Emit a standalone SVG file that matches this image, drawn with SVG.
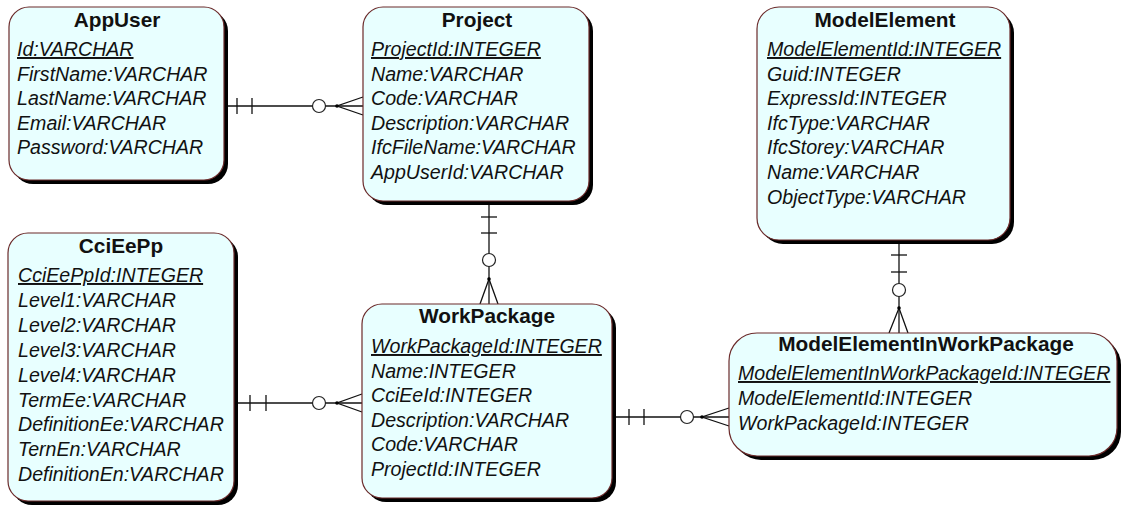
<svg xmlns="http://www.w3.org/2000/svg" width="1123" height="506" viewBox="0 0 1123 506">
  <style>
    .shadow { fill: #000; }
    .box { fill: #e8ffff; stroke: #6b2a2a; stroke-width: 1.2; }
    .title { font-family: "Liberation Sans", Arial, sans-serif; font-weight: bold; font-size: 20.8px; fill: #111; text-anchor: middle; }
    .attr { font-family: "Liberation Sans", Arial, sans-serif; font-style: italic; font-size: 19.6px; fill: #111; }
    .key { text-decoration: underline; }
    .rel line, .rel polyline { stroke: #111; stroke-width: 1.3; fill: none; }
    .rel circle.opt { fill: #fff; stroke: #222; stroke-width: 1.2; }
    .rel circle.dot { fill: #000; }
  </style>

  <rect width="1123" height="506" fill="#fff"/>

  <!-- relationships: one (||) to zero-or-many (o<) -->
  <g id="connectors" class="rel">
    <!-- AppUser -> Project -->
    <g id="rel-appuser-project">
      <line x1="228" y1="106" x2="363" y2="106"/>
      <line x1="237" y1="98" x2="237" y2="114"/>
      <line x1="252" y1="98" x2="252" y2="114"/>
      <circle class="opt" cx="319" cy="106" r="6.5"/>
      <polyline points="363,97 337,106 363,115"/>
      <circle class="dot" cx="337" cy="106" r="1.8"/>
    </g>
    <!-- Project -> WorkPackage -->
    <g id="rel-project-workpackage">
      <line x1="489" y1="205" x2="489" y2="304"/>
      <line x1="481" y1="217" x2="497" y2="217"/>
      <line x1="481" y1="233" x2="497" y2="233"/>
      <circle class="opt" cx="489" cy="260" r="6.5"/>
      <polyline points="480,304 489,279 498,304"/>
      <circle class="dot" cx="489" cy="279" r="1.8"/>
    </g>
    <!-- CciEePp -> WorkPackage -->
    <g id="rel-cci-workpackage">
      <line x1="238" y1="403" x2="362" y2="403"/>
      <line x1="250" y1="395" x2="250" y2="411"/>
      <line x1="266" y1="395" x2="266" y2="411"/>
      <circle class="opt" cx="319" cy="403" r="6.5"/>
      <polyline points="362,394 337,403 362,412"/>
      <circle class="dot" cx="337" cy="403" r="1.8"/>
    </g>
    <!-- WorkPackage -> ModelElementInWorkPackage -->
    <g id="rel-workpackage-meiwp">
      <line x1="616" y1="417" x2="729" y2="417"/>
      <line x1="629" y1="409" x2="629" y2="425"/>
      <line x1="644" y1="409" x2="644" y2="425"/>
      <circle class="opt" cx="687" cy="417" r="6.5"/>
      <polyline points="729,408 702,417 729,426"/>
      <circle class="dot" cx="702" cy="417" r="1.8"/>
    </g>
    <!-- ModelElement -> ModelElementInWorkPackage -->
    <g id="rel-modelelement-meiwp">
      <line x1="899" y1="244" x2="899" y2="333"/>
      <line x1="891" y1="255" x2="907" y2="255"/>
      <line x1="891" y1="272" x2="907" y2="272"/>
      <circle class="opt" cx="899" cy="290" r="6.5"/>
      <polyline points="889,333 899,308 908,333"/>
      <circle class="dot" cx="899" cy="308" r="1.8"/>
    </g>
  </g>

  <!-- entities -->
  <g id="AppUser">
    <rect class="shadow" x="13" y="11" width="215" height="173" rx="20"/>
    <rect class="box" x="9" y="7" width="215" height="173" rx="20"/>
    <text class="title" x="117" y="27">AppUser</text>
    <text class="attr key" x="17" y="56">Id:VARCHAR</text>
    <text class="attr" x="17" y="80.6">FirstName:VARCHAR</text>
    <text class="attr" x="17" y="105.2">LastName:VARCHAR</text>
    <text class="attr" x="17" y="129.8">Email:VARCHAR</text>
    <text class="attr" x="17" y="154.4">Password:VARCHAR</text>
  </g>

  <g id="Project">
    <rect class="shadow" x="367" y="11" width="226" height="194" rx="20"/>
    <rect class="box" x="363" y="7" width="226" height="194" rx="20"/>
    <text class="title" x="477" y="27">Project</text>
    <text class="attr key" x="371" y="56">ProjectId:INTEGER</text>
    <text class="attr" x="371" y="80.6">Name:VARCHAR</text>
    <text class="attr" x="371" y="105.2">Code:VARCHAR</text>
    <text class="attr" x="371" y="129.8">Description:VARCHAR</text>
    <text class="attr" x="371" y="154.4">IfcFileName:VARCHAR</text>
    <text class="attr" x="371" y="179">AppUserId:VARCHAR</text>
  </g>

  <g id="ModelElement">
    <rect class="shadow" x="761" y="11" width="253" height="233" rx="22"/>
    <rect class="box" x="757" y="7" width="253" height="233" rx="22"/>
    <text class="title" x="885" y="27">ModelElement</text>
    <text class="attr key" x="767" y="56">ModelElementId:INTEGER</text>
    <text class="attr" x="767" y="80.6">Guid:INTEGER</text>
    <text class="attr" x="767" y="105.2">ExpressId:INTEGER</text>
    <text class="attr" x="767" y="129.8">IfcType:VARCHAR</text>
    <text class="attr" x="767" y="154.4">IfcStorey:VARCHAR</text>
    <text class="attr" x="767" y="179">Name:VARCHAR</text>
    <text class="attr" x="767" y="203.6">ObjectType:VARCHAR</text>
  </g>

  <g id="CciEePp">
    <rect class="shadow" x="12" y="237" width="226" height="268" rx="20"/>
    <rect class="box" x="8" y="233" width="226" height="268" rx="20"/>
    <text class="title" x="121" y="253">CciEePp</text>
    <text class="attr key" x="18" y="282">CciEePpId:INTEGER</text>
    <text class="attr" x="18" y="306.9">Level1:VARCHAR</text>
    <text class="attr" x="18" y="331.8">Level2:VARCHAR</text>
    <text class="attr" x="18" y="356.7">Level3:VARCHAR</text>
    <text class="attr" x="18" y="381.6">Level4:VARCHAR</text>
    <text class="attr" x="18" y="406.5">TermEe:VARCHAR</text>
    <text class="attr" x="18" y="431.4">DefinitionEe:VARCHAR</text>
    <text class="attr" x="18" y="456.3">TernEn:VARCHAR</text>
    <text class="attr" x="18" y="481.2">DefinitionEn:VARCHAR</text>
  </g>

  <g id="WorkPackage">
    <rect class="shadow" x="366" y="308" width="250" height="194" rx="20"/>
    <rect class="box" x="362" y="304" width="250" height="194" rx="20"/>
    <text class="title" x="487" y="323">WorkPackage</text>
    <text class="attr key" x="371" y="353">WorkPackageId:INTEGER</text>
    <text class="attr" x="371" y="377.6">Name:INTEGER</text>
    <text class="attr" x="371" y="402.2">CciEeId:INTEGER</text>
    <text class="attr" x="371" y="426.8">Description:VARCHAR</text>
    <text class="attr" x="371" y="451.4">Code:VARCHAR</text>
    <text class="attr" x="371" y="476">ProjectId:INTEGER</text>
  </g>

  <g id="ModelElementInWorkPackage">
    <rect class="shadow" x="733" y="337" width="388" height="123" rx="28"/>
    <rect class="box" x="729" y="333" width="388" height="123" rx="28"/>
    <text class="title" x="926" y="351">ModelElementInWorkPackage</text>
    <text class="attr key" x="738" y="380">ModelElementInWorkPackageId:INTEGER</text>
    <text class="attr" x="738" y="405">ModelElementId:INTEGER</text>
    <text class="attr" x="738" y="430">WorkPackageId:INTEGER</text>
  </g>
</svg>
